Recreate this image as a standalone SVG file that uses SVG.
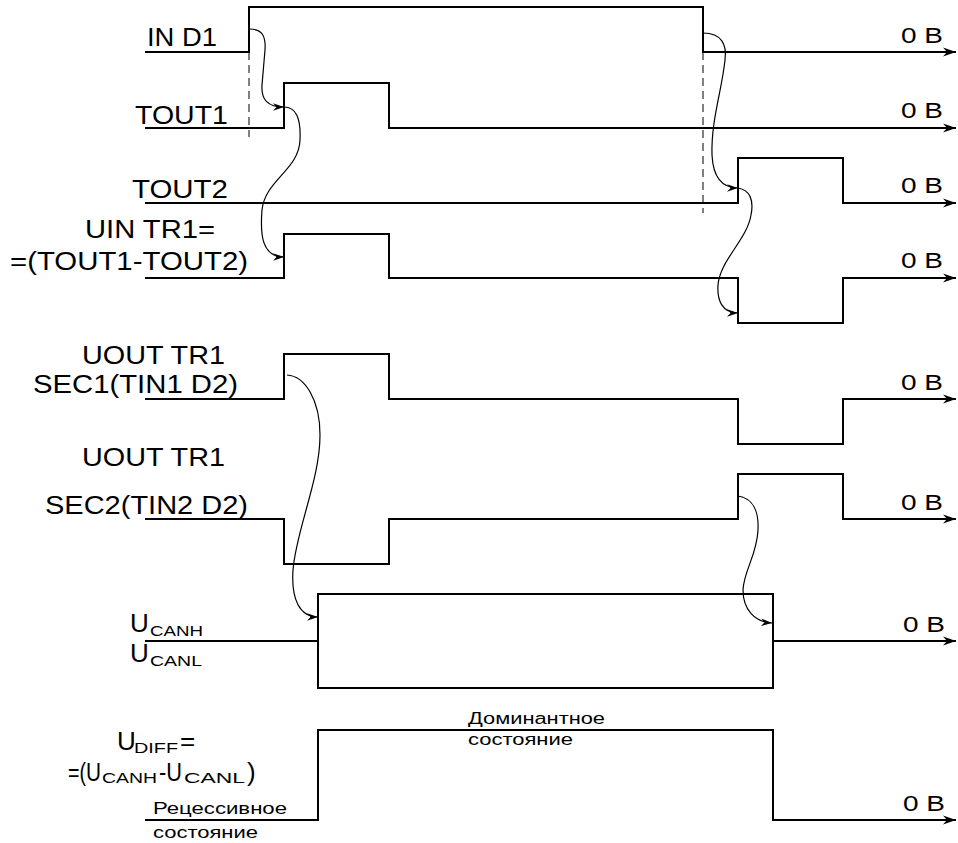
<svg xmlns="http://www.w3.org/2000/svg" width="958" height="843" viewBox="0 0 958 843">
<style>
.w{fill:none;stroke:#000;stroke-width:2;stroke-linejoin:miter;stroke-linecap:butt}
.wa{fill:none;stroke:#000;stroke-width:2;marker-end:url(#ah)}
.d{fill:none;stroke:#000;stroke-width:1;stroke-dasharray:8,5}
.c{fill:none;stroke:#000;stroke-width:1.2;marker-end:url(#sh)}
text{font-family:"Liberation Sans",Arial,sans-serif;fill:#000}
.L{font-size:26px}
.z{font-size:22px}
.s{font-size:15px}
.m{font-size:16px}
</style>
<defs>
<marker id="ah" markerWidth="14" markerHeight="10" viewBox="-14 -5 14 10" refX="0" refY="0" orient="auto" markerUnits="userSpaceOnUse"><path d="M0,0 L-13,-4.5 L-9,0 L-13,4.5Z" fill="#000"/></marker>
<marker id="sh" markerWidth="12" markerHeight="8" viewBox="-12 -4 12 8" refX="0" refY="0" orient="auto" markerUnits="userSpaceOnUse"><path d="M0,0 L-11,-3.8 L-7.5,0 L-11,3.8Z" fill="#000"/></marker>
</defs>

<g id="in-d1">
<path class="w" d="M145,52 H249 V7 H703 V52 H750"/>
<path class="wa" d="M740,52 H956"/>
<text class="L" x="147" y="46" textLength="70" lengthAdjust="spacingAndGlyphs">IN D1</text>
<text class="z" x="901" y="43" textLength="42" lengthAdjust="spacingAndGlyphs">0 B</text>
</g>

<g id="tout1">
<path class="w" d="M145,128 H284 V83 H389 V128 H750"/>
<path class="wa" d="M740,128 H956"/>
<text class="L" x="135" y="124" textLength="93" lengthAdjust="spacingAndGlyphs">TOUT1</text>
<text class="z" x="901" y="118" textLength="42" lengthAdjust="spacingAndGlyphs">0 B</text>
</g>

<g id="tout2">
<path class="w" d="M145,203 H738 V158 H843 V203 H860"/>
<path class="wa" d="M850,203 H956"/>
<text class="L" x="132" y="198" textLength="96" lengthAdjust="spacingAndGlyphs">TOUT2</text>
<text class="z" x="901" y="193" textLength="42" lengthAdjust="spacingAndGlyphs">0 B</text>
</g>

<g id="uin-tr1">
<path class="w" d="M145,278 H284 V234 H389 V278 H738 V323 H843 V278 H860"/>
<path class="wa" d="M850,278 H956"/>
<text class="L" x="85" y="238" textLength="130" lengthAdjust="spacingAndGlyphs">UIN TR1=</text>
<text class="L" x="10" y="270" textLength="238" lengthAdjust="spacingAndGlyphs">=(TOUT1-TOUT2)</text>
<text class="z" x="901" y="268" textLength="42" lengthAdjust="spacingAndGlyphs">0 B</text>
</g>

<g id="uout-sec1">
<path class="w" d="M145,399 H284 V354 H389 V399 H738 V444 H843 V399 H860"/>
<path class="wa" d="M850,399 H956"/>
<text class="L" x="82" y="364" textLength="143" lengthAdjust="spacingAndGlyphs">UOUT TR1</text>
<text class="L" x="33" y="393" textLength="205" lengthAdjust="spacingAndGlyphs">SEC1(TIN1 D2)</text>
<text class="z" x="901" y="390" textLength="42" lengthAdjust="spacingAndGlyphs">0 B</text>
</g>

<g id="uout-sec2">
<path class="w" d="M145,519 H284 V564 H389 V519 H738 V474 H843 V519 H860"/>
<path class="wa" d="M850,519 H956"/>
<text class="L" x="82" y="466" textLength="143" lengthAdjust="spacingAndGlyphs">UOUT TR1</text>
<text class="L" x="45" y="514" textLength="203" lengthAdjust="spacingAndGlyphs">SEC2(TIN2 D2)</text>
<text class="z" x="901" y="510" textLength="42" lengthAdjust="spacingAndGlyphs">0 B</text>
</g>

<g id="ucan">
<path class="w" d="M145,641 H318"/>
<rect class="w" x="318" y="594" width="455" height="94"/>
<path class="wa" d="M773,641 H956"/>
<text class="L"><tspan x="130" y="632">U</tspan><tspan class="s" x="150" y="636" textLength="53" lengthAdjust="spacingAndGlyphs">CANH</tspan></text>
<text class="L"><tspan x="130" y="662">U</tspan><tspan class="s" x="150" y="666" textLength="52" lengthAdjust="spacingAndGlyphs">CANL</tspan></text>
<text class="z" x="903" y="632" textLength="42" lengthAdjust="spacingAndGlyphs">0 B</text>
</g>

<g id="udiff">
<path class="w" d="M145,820 H318 V730 H773 V820 H790"/>
<path class="wa" d="M780,820 H956"/>
<text class="L"><tspan x="117" y="750">U</tspan><tspan class="s" x="134" y="753" textLength="44" lengthAdjust="spacingAndGlyphs">DIFF</tspan><tspan x="180" y="750">=</tspan></text>
<text class="L"><tspan x="68" y="781" textLength="18" lengthAdjust="spacingAndGlyphs">=(</tspan><tspan x="86" y="781" textLength="15" lengthAdjust="spacingAndGlyphs">U</tspan><tspan class="s" x="102" y="783" textLength="55" lengthAdjust="spacingAndGlyphs">CANH</tspan><tspan x="159" y="781" textLength="23" lengthAdjust="spacingAndGlyphs">-U</tspan><tspan class="s" x="184" y="783" textLength="61" lengthAdjust="spacingAndGlyphs">CANL</tspan><tspan x="247" y="781">)</tspan></text>
<text class="m" x="153" y="814" textLength="134" lengthAdjust="spacingAndGlyphs">Рецессивное</text>
<text class="m" x="153" y="838" textLength="105" lengthAdjust="spacingAndGlyphs">состояние</text>
<text class="m" x="468" y="724" textLength="137" lengthAdjust="spacingAndGlyphs">Доминантное</text>
<text class="m" x="468" y="745" textLength="105" lengthAdjust="spacingAndGlyphs">состояние</text>
<text class="z" x="903" y="811" textLength="42" lengthAdjust="spacingAndGlyphs">0 B</text>
</g>

<g id="guides">
<path class="d" d="M249,52 V137"/>
<path class="d" d="M703,52 V213"/>
</g>

<g id="connectors">
<path class="c" d="M250,29 C262,29 266,36 265,50 L262,85 C261,100 268,107 284,107"/>
<path class="c" d="M284,107 C296,107 301,118 300,140 C299,170 265,180 262,210 C260,235 262,257 284,257"/>
<path class="c" d="M703,33 C722,33 727,45 725,60 C722,90 711,120 712,155 C713,175 720,188 738,188"/>
<path class="c" d="M738,188 C750,190 754,200 751,215 C747,240 720,260 718,285 C717,300 722,313 738,313"/>
<path class="c" d="M287,375 C305,376 320,400 320,435 C320,480 296,530 293,570 C291,600 300,617 318,617"/>
<path class="c" d="M738,496 C752,498 759,510 758,530 C757,555 744,570 743,590 C743,610 755,622 772,623"/>
</g>
</svg>
